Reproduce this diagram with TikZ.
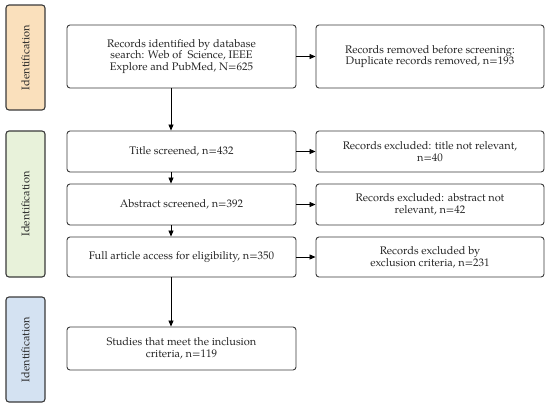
\documentclass[tikz,border=0pt]{standalone}
\usepackage{fontspec}
\setmainfont{TeX Gyre Pagella}
\usetikzlibrary{arrows.meta}
\definecolor{sideorange}{HTML}{FAE0BC}
\definecolor{sidegreen}{HTML}{E8F2DA}
\definecolor{sideblue}{HTML}{D4E2F2}
\definecolor{edgegray}{HTML}{3A3A3A}
\begin{document}
\begin{tikzpicture}[x=1pt,y=-1pt,
  sidebox/.style={draw=edgegray,line width=1.1pt,rounded corners=3pt,inner sep=0pt},
  flowbox/.style={draw=edgegray,line width=0.9pt,rounded corners=3pt,inner sep=0pt},
  boxtext/.style={align=center,font=\fontsize{11}{11.8}\selectfont,text=black!85},
  sidetext/.style={rotate=90,font=\fontsize{11}{12}\selectfont,text=black!85},
  flowarrow/.style={-{Triangle[length=6pt,width=5pt]},line width=0.8pt,black}]
\useasboundingbox (0,0) rectangle (550,408);
% side labels
\draw[sidebox,fill=sideorange] (6,5) rectangle (45,110);
\node[sidetext] (s1) at (25.5,57.5) {Identification};
\draw[sidebox,fill=sidegreen] (6,131) rectangle (45,277);
\node[sidetext] (s2) at (25.5,204) {Identification};
\draw[sidebox,fill=sideblue] (6,297) rectangle (45,402);
\node[sidetext] (s3) at (25.5,349.5) {Identification};
% left column boxes
\node[flowbox,minimum width=229pt,minimum height=63pt] (b1) at (181.5,56.5) {};
\node[boxtext] at (b1) {Records identified by database\\search: Web of\ \ Science, IEEE\\Explore and PubMed, N=625};
\node[flowbox,minimum width=229pt,minimum height=41pt] (b2) at (181.5,151.5) {};
\node[boxtext] at (b2) {Title screened, n=432};
\node[flowbox,minimum width=229pt,minimum height=41pt] (b3) at (181.5,204.5) {};
\node[boxtext] at (b3) {Abstract screened, n=392};
\node[flowbox,minimum width=229pt,minimum height=40pt] (b4) at (181.5,257) {};
\node[boxtext] at (b4) {Full article access for eligibility, n=350};
\node[flowbox,minimum width=229pt,minimum height=43pt] (b5) at (181.5,348.5) {};
\node[boxtext] at (b5) {Studies that meet the inclusion\\criteria, n=119};
% right column boxes
\node[flowbox,minimum width=228pt,minimum height=63pt] (r1) at (430,56.5) {};
\node[boxtext] at (r1) {Records removed before screening:\\Duplicate records removed, n=193};
\node[flowbox,minimum width=228pt,minimum height=41pt] (r2) at (430,151.5) {};
\node[boxtext] at (r2) {Records excluded: title not relevant,\\n=40};
\node[flowbox,minimum width=228pt,minimum height=41pt] (r3) at (430,204.5) {};
\node[boxtext] at (r3) {Records excluded: abstract not\\relevant, n=42};
\node[flowbox,minimum width=228pt,minimum height=40pt] (r4) at (430,257) {};
\node[boxtext] at (r4) {Records excluded by\\exclusion criteria, n=231};
% arrows
\coordinate (b1s) at ([xshift=-10.5pt]b1.south);
\draw[flowarrow] (b1s) -- (b1s |- b2.north);
\draw[flowarrow] (b1s |- b2.south) -- (b1s |- b3.north);
\draw[flowarrow] (b1s |- b3.south) -- (b1s |- b4.north);
\draw[flowarrow] (b1s |- b4.south) -- (b1s |- b5.north);
\draw[flowarrow] (b1.east) -- (r1.west);
\draw[flowarrow] (b2.east) -- (r2.west);
\draw[flowarrow] (b3.east) -- (r3.west);
\draw[flowarrow] (b4.east) -- (r4.west);
\end{tikzpicture}
\end{document}
